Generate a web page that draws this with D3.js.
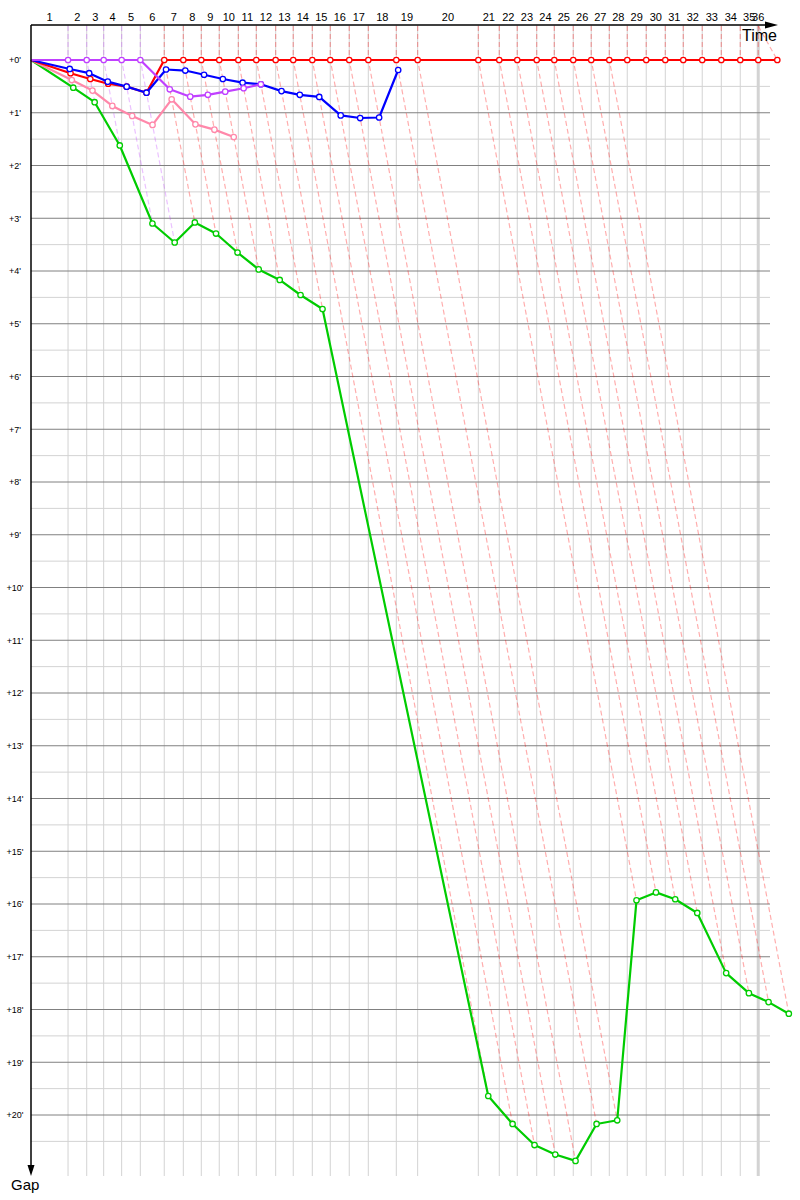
<!DOCTYPE html>
<html>
<head>
<meta charset="utf-8">
<script src="https://cdn.jsdelivr.net/npm/d3@7/dist/d3.min.js"></script>
<style>
  body { margin: 0; background: #fff; }
  svg { display: block; }
  text { font-family: "Liberation Sans", Arial, sans-serif; }
</style>
</head>
<body>
<div id="chart"></div>
<script>
// Leader's elapsed time (minutes) at the end of each lap, lap 0 = start
const leaderTimes = [0, 3.73, 5.61, 7.32, 9.13, 11.01, 13.42, 15.34, 17.15, 18.96, 20.88,
  22.69, 24.64, 26.41, 28.33, 30.14, 32.05, 33.97, 36.79, 38.94, 45.05,
  47.16, 48.97, 50.93, 52.70, 54.61, 56.42, 58.24, 60.05, 61.96, 63.88,
  65.69, 67.60, 69.52, 71.43, 73.24, 75.16];
const currentTime = 73.24;

// Gap to the leader (minutes) per lap, lap 0 = start
const greenGaps = [0, 0.525, 0.80, 1.62, 3.10, 3.46, 3.08, 3.29, 3.65, 3.97, 4.17, 4.455, 4.72,
  19.64, 20.17, 20.57, 20.75, 20.87, 20.17, 20.10, 15.93, 15.78, 15.91, 16.17, 17.31, 17.69, 17.86, 18.08];
const pinkGaps = [0, 0.38, 0.58, 0.87, 1.06, 1.23, 0.745, 1.22, 1.32, 1.46];
const redGaps = [0, 0.25, 0.36, 0.45, 0.505, 0.62, 0, 0, 0, 0, 0, 0, 0, 0, 0, 0, 0, 0, 0, 0, 0,
  0, 0, 0, 0, 0, 0, 0, 0, 0, 0, 0, 0, 0, 0, 0, 0];
const blueGaps = [0, 0.17, 0.25, 0.41, 0.505, 0.62, 0.18, 0.20, 0.28, 0.36, 0.43, 0.46,
  0.59, 0.66, 0.70, 1.05, 1.10, 1.09, 0.19];
const purpleGaps = [0, 0, 0, 0, 0, 0, 0.555, 0.695, 0.66, 0.60, 0.535, 0.46];

const gapTicks = [0, 1, 2, 3, 4, 5, 6, 7, 8, 9, 10, 11, 12, 13, 14, 15, 16, 17, 18, 19, 20];

(function main() {
  const width = 800, height = 1200;
  const left = 31, axisTop = 25, gridRight = 770, gridBottom = 1176;

  const riders = [
    { key: 'green', color: '#00cc00', gaps: greenGaps },
    { key: 'pink', color: '#ff88aa', gaps: pinkGaps },
    { key: 'red', color: '#ff0000', gaps: redGaps },
    { key: 'blue', color: '#0000ff', gaps: blueGaps },
    { key: 'purple', color: '#c040ff', gaps: purpleGaps }
  ];

  const svg = d3.select('#chart').append('svg')
    .attr('width', width)
    .attr('height', height);

  const x = d3.scaleLinear().domain([0, leaderTimes[leaderTimes.length - 1]]).range([left, 777.3]);
  const y = d3.scaleLinear().domain([0, 20]).range([60, 1115]);
  const clampT = t => Math.min(t, currentTime);

  // horizontal grid: half minutes light, minutes dark
  const grid = svg.append('g');
  grid.selectAll('line.minor')
    .data(gapTicks.map(d => d + 0.5))
    .enter().append('line')
    .attr('class', 'minor')
    .attr('x1', left).attr('x2', gridRight)
    .attr('y1', d => y(d)).attr('y2', d => y(d))
    .attr('stroke', '#d3d3d3');

  // vertical grid at the leader's lap times
  const laps = d3.range(1, leaderTimes.length);
  grid.selectAll('line.vert')
    .data(laps.filter(k => leaderTimes[k] <= currentTime))
    .enter().append('line')
    .attr('class', 'vert')
    .attr('x1', k => x(leaderTimes[k])).attr('x2', k => x(leaderTimes[k]))
    .attr('y1', axisTop).attr('y2', gridBottom)
    .attr('stroke', '#d3d3d3')
    .attr('stroke-width', k => leaderTimes[k] === currentTime ? 3 : 1);

  grid.selectAll('line.major')
    .data(gapTicks)
    .enter().append('line')
    .attr('class', 'major')
    .attr('x1', left).attr('x2', gridRight)
    .attr('y1', d => y(d)).attr('y2', d => y(d))
    .attr('stroke', '#808080');

  // dashed lines of equal time for each lap (from the leader to the last rider)
  const timeLines = laps.map(k => {
    const present = riders.filter(r => r.gaps[k] != null);
    const leader = present.find(r => r.gaps[k] === 0);
    const maxGap = d3.max(present, r => r.gaps[k]);
    return { lap: k, color: leader ? leader.color : '#ff0000', maxGap };
  });

  svg.append('g').selectAll('path')
    .data(timeLines)
    .enter().append('path')
    .attr('fill', 'none')
    .attr('stroke', d => d.color)
    .attr('stroke-opacity', 0.32)
    .attr('stroke-width', 1.2)
    .attr('stroke-dasharray', '5,3')
    .attr('d', d => {
      const t = leaderTimes[d.lap];
      return `M${x(clampT(t))},${axisTop + 1}L${x(t)},${y(0)}L${x(t + d.maxGap)},${y(d.maxGap)}`;
    });

  // rider series
  const line = d3.line()
    .x(d => x(d.t))
    .y(d => y(d.gap));

  riders.forEach(r => {
    const pts = r.gaps.map((g, i) => ({ lap: i, gap: g, t: leaderTimes[i] + g }));
    const g = svg.append('g').attr('class', `series ${r.key}`);
    g.append('path')
      .datum(pts)
      .attr('fill', 'none')
      .attr('stroke', r.color)
      .attr('stroke-width', 2.2)
      .attr('stroke-linejoin', 'round')
      .attr('d', line);
    g.selectAll('circle')
      .data(pts.slice(1))
      .enter().append('circle')
      .attr('cx', d => x(d.t))
      .attr('cy', d => y(d.gap))
      .attr('r', 2.7)
      .attr('fill', '#fff')
      .attr('stroke', r.color)
      .attr('stroke-width', 1.3);
  });

  // axes
  const axes = svg.append('g');
  axes.append('line')
    .attr('x1', left).attr('x2', 766)
    .attr('y1', axisTop).attr('y2', axisTop)
    .attr('stroke', '#000').attr('stroke-width', 1.5);
  axes.append('path')
    .attr('d', `M765,21.5L778,${axisTop}L765,28.5Z`)
    .attr('fill', '#000');
  axes.append('line')
    .attr('x1', left).attr('x2', left)
    .attr('y1', axisTop).attr('y2', 1166)
    .attr('stroke', '#000').attr('stroke-width', 1.5);
  axes.append('path')
    .attr('d', `M27.5,1165L${left},1176L34.5,1165Z`)
    .attr('fill', '#000');

  axes.append('text')
    .attr('x', 777).attr('y', 41)
    .attr('text-anchor', 'end')
    .style('font-size', '16px')
    .text('Time');
  axes.append('text')
    .attr('x', 11).attr('y', 1190)
    .style('font-size', '15px')
    .text('Gap');

  // lap numbers centred on each lap
  axes.selectAll('text.lap')
    .data(laps)
    .enter().append('text')
    .attr('class', 'lap')
    .attr('x', k => (x(clampT(leaderTimes[k - 1])) + x(clampT(leaderTimes[k]))) / 2)
    .attr('y', 21)
    .attr('text-anchor', 'middle')
    .style('font-size', '11px')
    .text(k => k);

  // gap labels
  const yAxis = svg.append('g')
    .attr('transform', 'translate(15,0)')
    .call(d3.axisLeft(y).tickValues(gapTicks).tickSize(0).tickPadding(0).tickFormat(d => `+${d}'`));
  yAxis.select('.domain').remove();
  yAxis.selectAll('text')
    .attr('x', 0)
    .attr('text-anchor', 'middle')
    .style('font-family', '"Liberation Sans", Arial, sans-serif')
    .style('font-size', '9px');
})();
</script>
</body>
</html>
